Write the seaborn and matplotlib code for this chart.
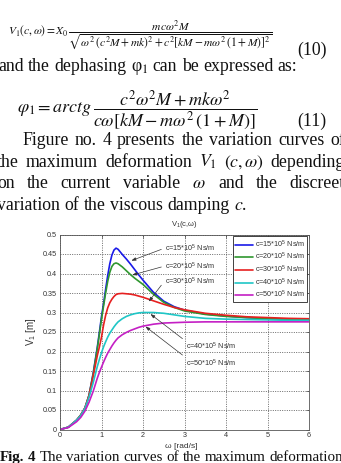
import numpy as np
import pandas as pd
import matplotlib
matplotlib.use("Agg")
import matplotlib.pyplot as plt
import seaborn as sns

# ---------------- data ----------------
omega = [0, 0.2, 0.4, 0.5, 0.6, 0.7, 0.8, 0.9, 0.95, 1.0, 1.05, 1.1, 1.15, 1.2,
         1.25, 1.3, 1.35, 1.4, 1.5, 1.6, 1.7, 1.8, 1.9, 2.0, 2.25, 2.5, 2.75,
         3.0, 3.5, 4.0, 4.5, 5.0, 5.5, 6.0]
v_c15 = [0, 0.006, 0.024, 0.037, 0.055, 0.088, 0.145, 0.212, 0.25, 0.29,
         0.323, 0.36, 0.395, 0.425, 0.447, 0.46, 0.465, 0.462, 0.449, 0.437,
         0.424, 0.41, 0.396, 0.383, 0.352, 0.329, 0.315, 0.306, 0.296, 0.291,
         0.287, 0.285, 0.283, 0.282]
v_c20 = [0, 0.006, 0.024, 0.037, 0.055, 0.088, 0.142, 0.208, 0.245, 0.283,
         0.317, 0.35, 0.38, 0.403, 0.418, 0.425, 0.427, 0.425, 0.417, 0.407,
         0.397, 0.388, 0.38, 0.372, 0.347, 0.326, 0.313, 0.304, 0.295, 0.29,
         0.287, 0.284, 0.283, 0.282]
v_c30 = [0, 0.006, 0.024, 0.037, 0.055, 0.087, 0.137, 0.19, 0.212, 0.237,
         0.268, 0.293, 0.312, 0.325, 0.334, 0.341, 0.346, 0.348, 0.349, 0.348,
         0.347, 0.345, 0.342, 0.339, 0.33, 0.321, 0.313, 0.307, 0.298, 0.293,
         0.289, 0.287, 0.285, 0.284]
v_c40 = [0, 0.006, 0.024, 0.036, 0.054, 0.083, 0.12, 0.162, 0.18, 0.197,
         0.212, 0.225, 0.237, 0.247, 0.255, 0.263, 0.27, 0.276, 0.284, 0.29,
         0.294, 0.297, 0.299, 0.3, 0.3, 0.298, 0.294, 0.29, 0.285, 0.283,
         0.282, 0.281, 0.28, 0.28]
v_c50 = [0, 0.005, 0.02, 0.031, 0.047, 0.07, 0.098, 0.132, 0.147, 0.16,
         0.173, 0.185, 0.196, 0.205, 0.214, 0.222, 0.229, 0.235, 0.243, 0.249,
         0.254, 0.258, 0.262, 0.265, 0.27, 0.273, 0.274, 0.275, 0.276, 0.276,
         0.276, 0.276, 0.276, 0.276]
series_labels = ["c=15*10$^5$ Ns/m", "c=20*10$^5$ Ns/m", "c=30*10$^5$ Ns/m",
                 "c=40*10$^5$ Ns/m", "c=50*10$^5$ Ns/m"]
x_ticks = [0, 1, 2, 3, 4, 5, 6]
x_tick_labels = ["0", "1", "2", "3", "4", "5", "6"]
y_ticks = [0, 0.05, 0.1, 0.15, 0.2, 0.25, 0.3, 0.35, 0.4, 0.45, 0.5]
y_tick_labels = ["0", "0.05", "0.1", "0.15", "0.2", "0.25", "0.3", "0.35",
                 "0.4", "0.45", "0.5"]

# ---------------- style ----------------
sns.set_style("white")
plt.rcParams["font.family"] = ["Liberation Sans", "DejaVu Sans"]
plt.rcParams["mathtext.fontset"] = "custom"
plt.rcParams["mathtext.rm"] = "Liberation Sans"
plt.rcParams["mathtext.it"] = "Liberation Sans:italic"
plt.rcParams["mathtext.bf"] = "Liberation Sans:bold"

colors = ["#1a1ae8", "#2f972f", "#e62020", "#1fc6c6", "#c41fc4"]

W, H = 341, 463
fig = plt.figure(figsize=(W / 100, H / 100), dpi=100)
fig.patch.set_facecolor("white")
renderer = fig.canvas.get_renderer()


def fx(x):
    return x / W


def fy(y):
    return 1 - y / H


SERIF = ["Liberation Serif", "DejaVu Serif"]
BODY = 12.8


def put_line(tokens, y, x0, x1=None, size=BODY):
    arts = []
    for s, kw in tokens:
        t = fig.text(0, fy(y), s, fontsize=size, family=SERIF, va="baseline",
                     ha="left", math_fontfamily="stix", color="#111111", **kw)
        arts.append(t)
    widths = [a.get_window_extent(renderer).width for a in arts]
    if x1 is None or len(arts) < 2:
        gap = size * 100 / 72 * 0.25
    else:
        gap = (x1 - x0 - sum(widths)) / (len(arts) - 1)
    x = x0
    for a, w in zip(arts, widths):
        a.set_x(fx(x))
        x += w + gap


def words(s, **kw):
    return [(w, kw) for w in s.split()]


# ---------------- page text ----------------
eq10 = (r"$V_1(c,\omega) = X_0\,\dfrac{mc\omega^2M}"
        r"{\sqrt{\omega^2\,(c^2M + mk)^2 + c^2[kM - m\omega^2\,(1 + M)]^2}}$")
fig.text(fx(8), fy(34), eq10, fontsize=8.3, math_fontfamily="stix",
         va="baseline", ha="left", color="#111111")
fig.text(fx(297), fy(55), "(10)", fontsize=BODY, family=SERIF,
         va="baseline", ha="left", color="#111111")

put_line(words("and the dephasing") + [("φ$_1$", {})] +
         words("can be expressed as:"), 71, -2, None)

eq11 = (r"$\varphi_1 = arctg\,\dfrac{c^2\omega^2M + mk\omega^2}"
        r"{c\omega[kM - m\omega^2\,(1 + M)]}$")
fig.text(fx(17), fy(112), eq11, fontsize=13, math_fontfamily="stix",
         va="baseline", ha="left", color="#111111")
fig.text(fx(297), fy(126), "(11)", fontsize=BODY, family=SERIF,
         va="baseline", ha="left", color="#111111")

put_line(words("Figure no. 4 presents the variation curves of"), 145, 22, 345)
put_line(words("the maximum deformation") + [("$V_1$", {}), ("$(c,\\omega)$", {})]
         + words("depending"), 166.7, -3, 345)
put_line(words("on the current variable") + [("$\\omega$", {})] +
         words("and the discreet"), 188.3, -3, 345)
put_line(words("variation of the viscous damping") + [("$c$.", {})], 210, -3, None)

cap = [("Fig.", {"weight": "bold"}), ("4", {"weight": "bold"})] + \
      words("The variation curves of the maximum deformation")
put_line(cap, 461, 0, None, size=10.8)

# ---------------- chart ----------------
ax = fig.add_axes([fx(60), 1 - 429.5 / H, 249 / W, 195 / H])
rows = []
for lab, vals in zip(series_labels, [v_c15, v_c20, v_c30, v_c40, v_c50]):
    for o, v in zip(omega, vals):
        rows.append({"omega": o, "V": v, "series": lab})
df = pd.DataFrame(rows)

sns.lineplot(data=df, x="omega", y="V", hue="series", palette=colors,
             hue_order=series_labels, linewidth=1.2, ax=ax, legend=True)

ax.set_xlim(0, 6)
ax.set_ylim(0, 0.5)
ax.set_xticks(x_ticks)
ax.set_xticklabels(x_tick_labels)
ax.set_yticks(y_ticks)
ax.set_yticklabels(y_tick_labels)
ax.tick_params(direction="in", top=True, right=True, length=2.5, width=0.5,
               labelsize=5.2, pad=2, colors="#444444", labelcolor="#333333")
ax.grid(True, linestyle=(0, (1.2, 1.6)), color="#555555", linewidth=0.6)
for sp in ax.spines.values():
    sp.set_color("#555555")
    sp.set_linewidth(0.6)

ax.set_title("V$_1$(c,ω)", fontsize=5.5, pad=6, color="#333333")
ax.set_xlabel("ω [rad/s]", fontsize=6, color="#333333")
ax.set_ylabel("V$_1$ [m]", fontsize=7, color="#333333")
ax.xaxis.set_label_coords(0.485, -0.068)
ax.yaxis.set_label_coords(-0.09, 0.5)

leg = ax.get_legend()
handles = leg.legend_handles
labels = [t.get_text() for t in leg.get_texts()]
for h, c in zip(handles, colors):
    h.set_linewidth(1.2)
lg = ax.legend(handles, labels, loc="upper right", fontsize=5.2,
               frameon=True, fancybox=False, framealpha=1, edgecolor="#222222",
               borderpad=0.3, handlelength=2.5, handletextpad=0.25,
               labelspacing=0.18, borderaxespad=0.25)
lg.get_frame().set_linewidth(0.6)
for t in lg.get_texts():
    t.set_color("#333333")

arrow = dict(arrowstyle="-|>,head_length=0.5,head_width=0.18", color="#333333",
             lw=0.5, shrinkA=0, shrinkB=0)
ann = [
    (series_labels[0], (1.72, 0.433), (2.52, 0.465), (0, 0.5)),
    (series_labels[1], (1.74, 0.396), (2.52, 0.419), (0, 0.5)),
    (series_labels[2], (2.14, 0.328), (2.52, 0.381), (0, 0.5)),
    (series_labels[3], (2.18, 0.296), (3.03, 0.212), (0, 1.0)),
    (series_labels[4], (2.06, 0.264), (3.03, 0.170), (0, 1.0)),
]
for txt, xy, xyt, rp in ann:
    a = dict(arrow)
    a["relpos"] = rp
    ax.annotate(txt, xy=xy, xytext=xyt, fontsize=5.2, color="#333333",
                ha="left", va="center", arrowprops=a)

fig.savefig("out.png", dpi=100, facecolor="white")
